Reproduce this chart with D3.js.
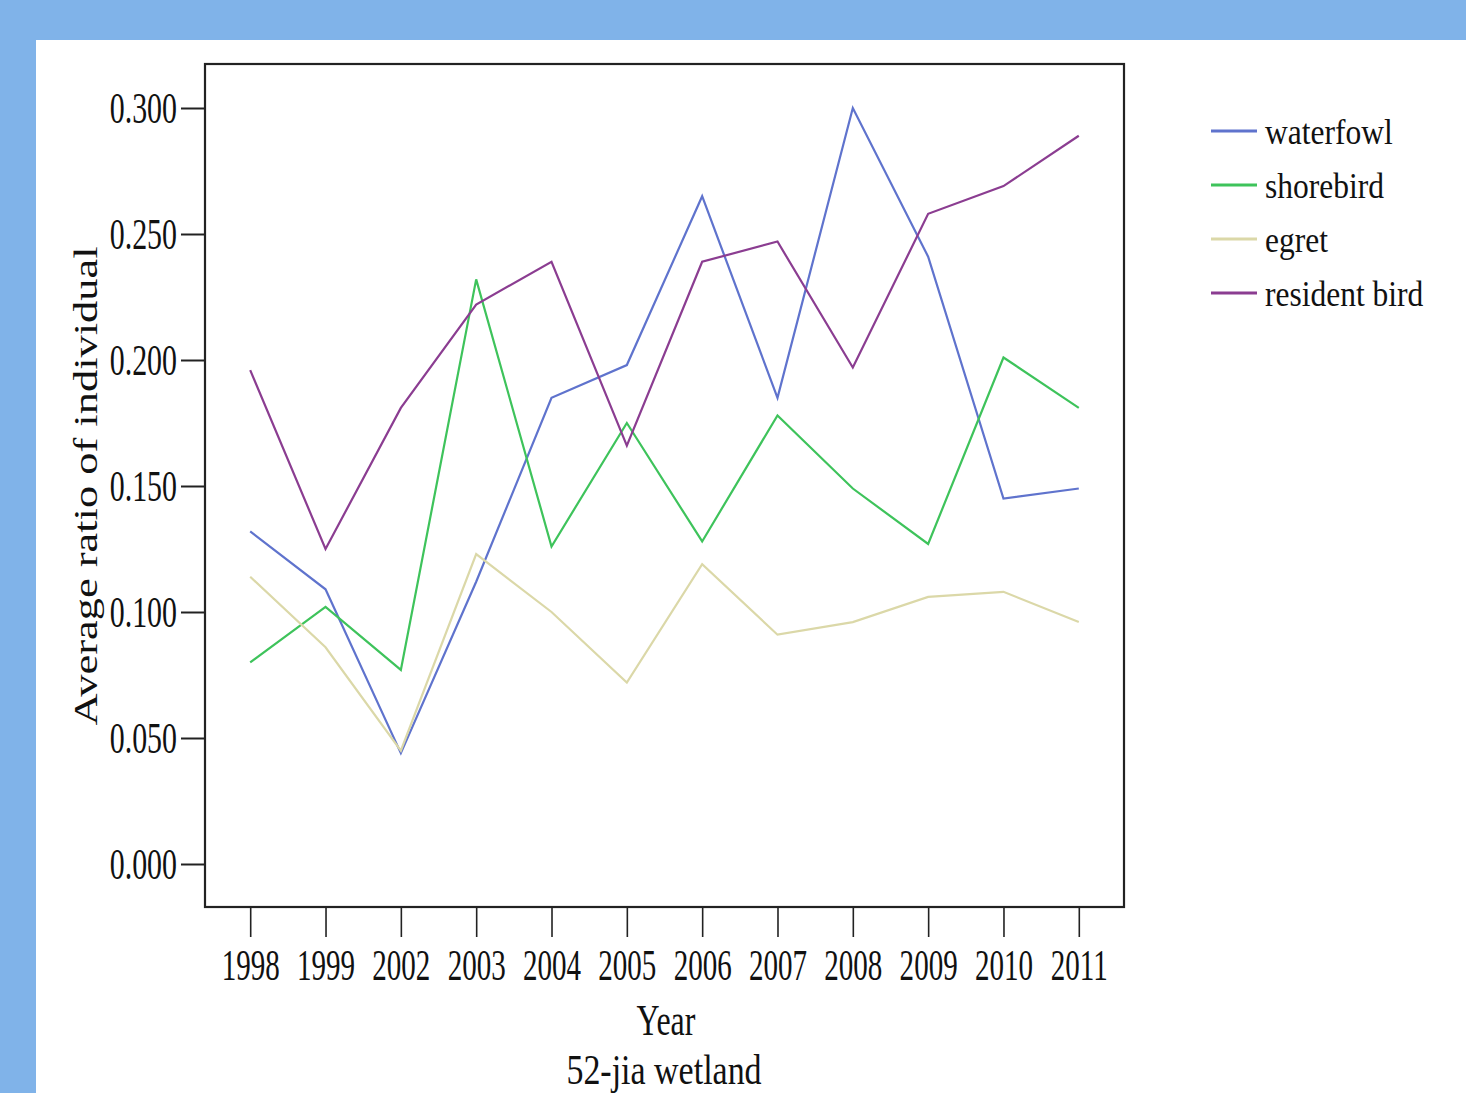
<!DOCTYPE html>
<html>
<head>
<meta charset="utf-8">
<script src="https://cdn.jsdelivr.net/npm/d3@7"></script>
<style>
  html, body { margin: 0; padding: 0; background: #80b3e9; }
  svg { display: block; }
  text { font-family: "Liberation Serif", "Times New Roman", serif; fill: #111; }
</style>
</head>
<body>
<svg id="chart" width="1466" height="1093"></svg>
<script>
// Survey years (categorical x axis)
const years = ["1998", "1999", "2002", "2003", "2004", "2005", "2006", "2007", "2008", "2009", "2010", "2011"];

// Average ratio of individuals per bird group, one value per year
const waterfowl    = [0.132, 0.109, 0.044, 0.112, 0.185, 0.198, 0.265, 0.185, 0.300, 0.241, 0.145, 0.149];
const shorebird    = [0.080, 0.102, 0.077, 0.232, 0.126, 0.175, 0.128, 0.178, 0.149, 0.127, 0.201, 0.181];
const egret        = [0.114, 0.086, 0.045, 0.123, 0.100, 0.072, 0.119, 0.091, 0.096, 0.106, 0.108, 0.096];
const residentBird = [0.196, 0.125, 0.181, 0.222, 0.239, 0.166, 0.239, 0.247, 0.197, 0.258, 0.269, 0.289];

const seriesNames = ["waterfowl", "shorebird", "egret", "resident bird"];
const seriesValues = [waterfowl, shorebird, egret, residentBird];
const seriesColors = ["#5f73cd", "#3ec35b", "#dbd8a8", "#8b3d91"];

const yTicks = [0, 0.05, 0.10, 0.15, 0.20, 0.25, 0.30];

const svg = d3.select("#chart");

// white panel
svg.append("rect").attr("x", 36).attr("y", 40).attr("width", 1430).attr("height", 1053).attr("fill", "#fff");

// plot box
const box = { left: 205, right: 1124, top: 64, bottom: 907 };

const x = d3.scalePoint().domain(years).range([box.left, box.right]).padding(0.6);
const y = d3.scaleLinear().domain([0, 0.3]).range([864, 108]);

const fmt = d3.format(".3f");

// y axis ticks and labels (condensed serif)
const ySquash = 0.68;
const yAxis = svg.append("g").attr("transform", `translate(${box.left},0)`)
  .call(d3.axisLeft(y).tickValues(yTicks).tickFormat(fmt).tickSize(24).tickPadding(0));
yAxis.select(".domain").remove();
yAxis.selectAll(".tick line").attr("stroke", "#222").attr("stroke-width", 2);
yAxis.selectAll(".tick text").attr("font-size", 44).attr("fill", "#111")
  .attr("x", -28 / ySquash).attr("dy", "0.33em")
  .attr("transform", `scale(${ySquash},1)`);

// x axis ticks and labels
const xSquash = 0.66;
const xAxis = svg.append("g").attr("transform", `translate(0,${box.bottom})`)
  .call(d3.axisBottom(x).tickSize(30).tickPadding(0));
xAxis.select(".domain").remove();
xAxis.selectAll(".tick line").attr("stroke", "#222").attr("stroke-width", 1.6);
xAxis.selectAll(".tick text").attr("font-size", 44).attr("fill", "#111")
  .attr("y", 73).attr("dy", 0)
  .attr("transform", `scale(${xSquash},1)`);

// frame
svg.append("rect")
  .attr("x", box.left).attr("y", box.top)
  .attr("width", box.right - box.left).attr("height", box.bottom - box.top)
  .attr("fill", "none").attr("stroke", "#222").attr("stroke-width", 2.2);

// series lines
const line = d3.line().x((d, i) => x(years[i])).y(d => y(d));
seriesValues.forEach((vals, k) => {
  svg.append("path")
    .datum(vals)
    .attr("d", line)
    .attr("fill", "none")
    .attr("stroke", seriesColors[k])
    .attr("stroke-width", 2.2)
    .attr("stroke-linejoin", "miter");
});

// axis titles
svg.append("text").attr("transform", "translate(666,1035) scale(0.71,1)")
  .attr("text-anchor", "middle").attr("font-size", 45).text("Year");
svg.append("text").attr("transform", "translate(664,1084) scale(0.79,1)")
  .attr("text-anchor", "middle").attr("font-size", 43).text("52-jia wetland");
svg.append("text")
  .attr("transform", "translate(97,486) rotate(-90) scale(1.01,0.76)")
  .attr("text-anchor", "middle")
  .attr("font-size", 44)
  .text("Average ratio of individual");

// legend
const legend = svg.append("g").attr("transform", "translate(1211,131)");
seriesNames.forEach((name, k) => {
  const g = legend.append("g").attr("transform", `translate(0,${k * 54})`);
  g.append("line").attr("x1", 0).attr("x2", 46).attr("y1", 0).attr("y2", 0)
    .attr("stroke", seriesColors[k]).attr("stroke-width", 3);
  g.append("text").attr("transform", "translate(54,13) scale(0.9,1)")
    .attr("font-size", 35)
    .text(name);
});
</script>
</body>
</html>
